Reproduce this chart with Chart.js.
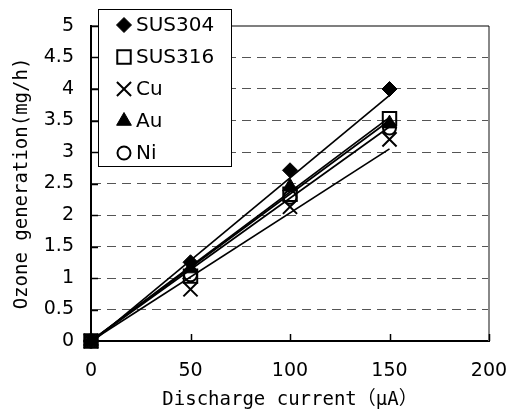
<!DOCTYPE html>
<html lang="ja">
<head>
<meta charset="utf-8">
<script src="https://cdn.jsdelivr.net/npm/chart.js@4.4.1/dist/chart.umd.min.js"></script>
<style>
  html, body { margin: 0; padding: 0; background: #fff; }
  #wrap { width: 513px; height: 419px; }
</style>
</head>
<body>
<div id="wrap"><canvas id="chart" width="513" height="419"></canvas></div>
<script>
// ─── Data ────────────────────────────────────────────────────
const current = [0, 50, 100, 150];          // µA
const sus304 = [0, 1.25, 2.71, 4.0];        // mg/h
const sus316 = [0, 1.03, 2.33, 3.53];
const cu     = [0, 0.82, 2.13, 3.2];
const au     = [0, 1.15, 2.45, 3.45];
const ni     = [0, 1.05, 2.28, 3.38];

// linear trend lines, read at both ends
const trendX   = [0, 150];
const trend304 = [-0.03, 3.9];
const trend316 = [0, 3.55];
const trendCu  = [0, 3.05];
const trendAu  = [0, 3.5];
const trendNi  = [0, 3.4];

const xTicks = [0, 50, 100, 150, 200];
const yTicks = [0, 0.5, 1, 1.5, 2, 2.5, 3, 3.5, 4, 4.5, 5];

const names = ['SUS304', 'SUS316', 'Cu', 'Au', 'Ni'];
const values = [sus304, sus316, cu, au, ni];
const trends = [trend304, trend316, trendCu, trendAu, trendNi];

// ─── Marker styles ───────────────────────────────────────────
const markers = [
  { pointStyle: 'rectRot',  radius: 7.5, fill: '#000',          borderWidth: 1 },
  { pointStyle: 'rect',     radius: 9.5, fill: 'rgba(0,0,0,0)', borderWidth: 2 },
  { pointStyle: 'crossRot', radius: 10,  fill: 'rgba(0,0,0,0)', borderWidth: 2 },
  { pointStyle: 'triangle', radius: 8.5, fill: '#000',          borderWidth: 1 },
  { pointStyle: 'circle',   radius: 6.5, fill: 'rgba(0,0,0,0)', borderWidth: 2 }
];

const titleFont = '"DejaVu Sans Mono", "Noto Sans CJK JP", monospace';

const toPoints = (xs, ys) => xs.map((x, i) => ({ x, y: ys[i] }));

const datasets = [];
names.forEach((name, i) => {
  const m = markers[i];
  datasets.push({
    label: name,
    data: toPoints(current, values[i]),
    showLine: false,
    pointStyle: m.pointStyle,
    pointRadius: m.radius,
    pointHoverRadius: m.radius,
    pointBackgroundColor: m.fill,
    pointBorderColor: '#000',
    pointBorderWidth: m.borderWidth,
    clip: false,
    order: 0
  });
});
names.forEach((name, i) => {
  datasets.push({
    label: name + ' trend',
    data: toPoints(trendX, trends[i]),
    showLine: true,
    borderColor: '#000',
    borderWidth: 1.7,
    pointRadius: 0,
    clip: false,
    order: 1
  });
});

// ─── Frame + inward tick marks ───────────────────────────────
const frame = {
  id: 'frame',
  beforeDatasetsDraw(chart) {
    const { ctx, chartArea: a, scales: { x, y } } = chart;
    ctx.save();
    ctx.strokeStyle = '#888';
    ctx.lineWidth = 2;
    ctx.beginPath();
    ctx.moveTo(a.right, a.top);
    ctx.lineTo(a.right, a.bottom);
    ctx.stroke();
    ctx.strokeStyle = '#000';
    ctx.lineWidth = 1.2;
    ctx.beginPath();
    ctx.moveTo(a.left, a.top);
    ctx.lineTo(a.right, a.top);
    ctx.stroke();
    ctx.lineWidth = 1.5;
    ctx.beginPath();
    yTicks.forEach(v => {
      const py = Math.round(y.getPixelForValue(v)) + 0.5;
      ctx.moveTo(a.left, py);
      ctx.lineTo(a.left + 7, py);
    });
    xTicks.forEach(v => {
      const px = Math.round(x.getPixelForValue(v)) + 0.5;
      ctx.moveTo(px, a.bottom);
      ctx.lineTo(px, a.bottom - 7);
    });
    ctx.stroke();
    ctx.restore();
  }
};

// ─── Legend box inside plot ──────────────────────────────────
const legendBox = {
  id: 'legendBox',
  afterDraw(chart) {
    const { ctx, chartArea: a } = chart;
    const left = a.left + 7, top = a.top - 17, w = 133, h = 157;
    ctx.save();
    ctx.fillStyle = '#fff';
    ctx.fillRect(left, top, w, h);
    ctx.strokeStyle = '#000';
    ctx.lineWidth = 1;
    ctx.strokeRect(left + 0.5, top + 0.5, w, h);
    ctx.font = '20px "DejaVu Sans"';
    ctx.textBaseline = 'middle';
    names.forEach((name, i) => {
      const cy = top + 16 + i * 32;
      const m = markers[i];
      ctx.fillStyle = m.fill;
      ctx.strokeStyle = '#000';
      ctx.lineWidth = m.borderWidth;
      Chart.helpers.drawPoint(ctx, {
        pointStyle: m.pointStyle, radius: m.radius, rotation: 0, borderWidth: m.borderWidth
      }, left + 26, cy);
      ctx.fillStyle = '#000';
      ctx.fillText(name, left + 38, cy + 1);
    });
    ctx.restore();
  }
};

new Chart(document.getElementById('chart'), {
  type: 'scatter',
  data: { datasets },
  options: {
    responsive: false,
    animation: false,
    events: [],
    layout: { padding: { left: 0, right: 24, top: 26, bottom: 0 } },
    plugins: { legend: { display: false }, tooltip: { enabled: false } },
    scales: {
      x: {
        type: 'linear',
        min: 0, max: 200,
        afterBuildTicks: s => { s.ticks = xTicks.map(v => ({ value: v })); },
        afterFit: s => { s.height = 78; s.paddingLeft = 0; s.paddingRight = 0; },
        grid: { display: false, drawTicks: false },
        border: { display: true, color: '#000', width: 2 },
        ticks: {
          padding: 19,
          color: '#000',
          font: { family: 'DejaVu Sans', size: 19 },
          callback: v => String(v)
        },
        title: {
          display: true,
          text: 'Discharge current（μA）',
          color: '#000',
          font: { family: titleFont, size: 19 },
          padding: { top: 0, bottom: 8 }
        }
      },
      y: {
        type: 'linear',
        min: 0, max: 5,
        afterBuildTicks: s => { s.ticks = yTicks.map(v => ({ value: v })); },
        afterFit: s => { s.width = 91; s.paddingTop = 0; s.paddingBottom = 0; },
        grid: {
          drawTicks: false,
          lineWidth: 1,
          color: c => (c.tick && (c.tick.value === 0 || c.tick.value === 5)) ? 'rgba(0,0,0,0)' : '#555'
        },
        border: { display: true, color: '#000', width: 2, dash: [9, 6] },
        ticks: {
          padding: 17,
          color: '#000',
          font: { family: 'DejaVu Sans', size: 19 },
          callback: v => String(v)
        },
        title: {
          display: true,
          text: 'Ozone generation(mg/h)',
          color: '#000',
          font: { family: titleFont, size: 19 },
          padding: { top: 11, bottom: 0 }
        }
      }
    }
  },
  plugins: [frame, legendBox]
});
</script>
</body>
</html>
